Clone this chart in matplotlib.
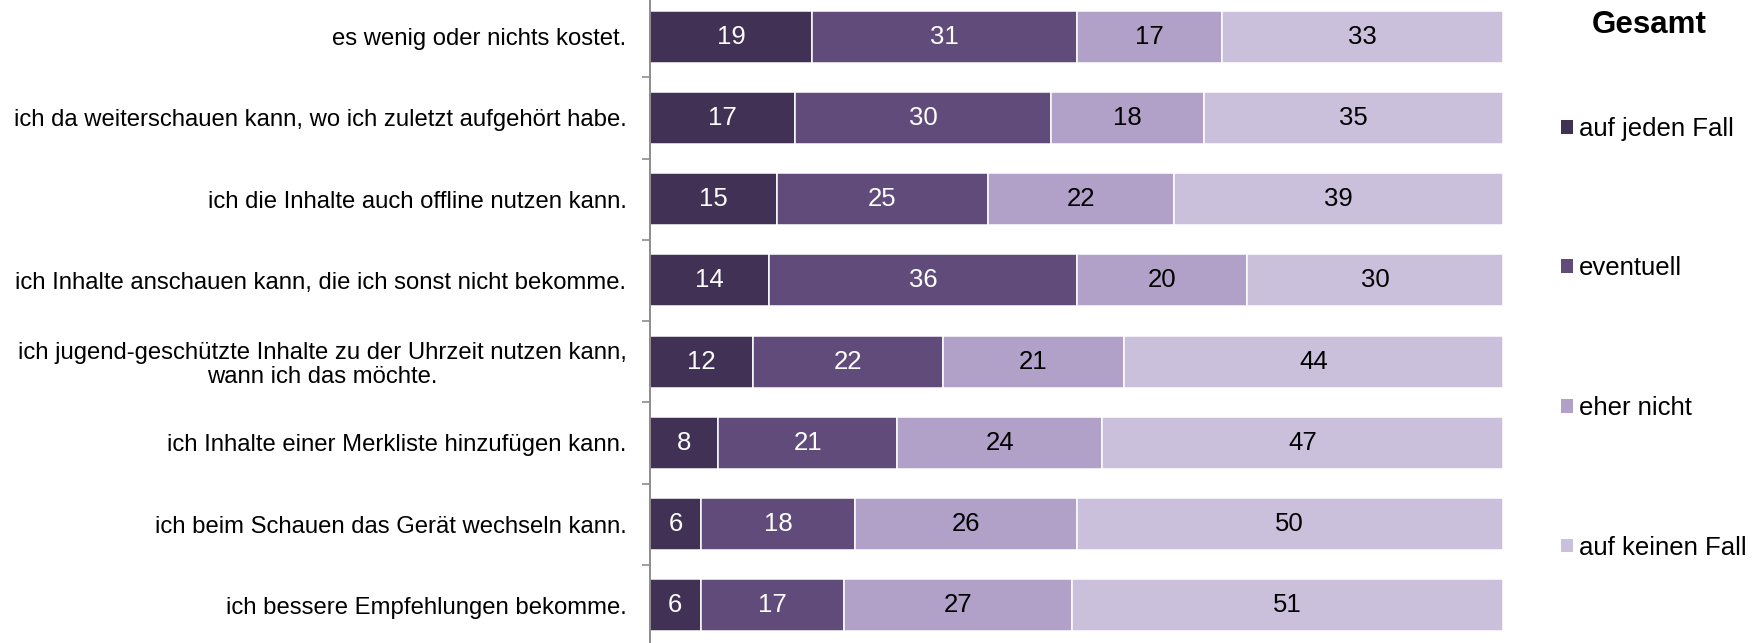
import numpy as np
import matplotlib.pyplot as plt
from matplotlib.patches import Patch

plt.rcParams['font.family'] = ['Liberation Sans', 'DejaVu Sans']

categories = [
    'es wenig oder nichts kostet.',
    'ich da weiterschauen kann, wo ich zuletzt aufgehört habe.',
    'ich die Inhalte auch offline nutzen kann.',
    'ich Inhalte anschauen kann, die ich sonst nicht bekomme.',
    'ich jugend-geschützte Inhalte zu der Uhrzeit nutzen kann,\nwann ich das möchte.',
    'ich Inhalte einer Merkliste hinzufügen kann.',
    'ich beim Schauen das Gerät wechseln kann.',
    'ich bessere Empfehlungen bekomme.',
]
series_names = ['auf jeden Fall', 'eventuell', 'eher nicht', 'auf keinen Fall']
auf_jeden_fall = [19, 17, 15, 14, 12, 8, 6, 6]
eventuell = [31, 30, 25, 36, 22, 21, 18, 17]
eher_nicht = [17, 18, 22, 20, 21, 24, 26, 27]
auf_keinen_fall = [33, 35, 39, 30, 44, 47, 50, 51]

colors = ['#413155', '#604b7a', '#b1a1c8', '#cbc0db']
text_colors = ['white', 'white', 'black', 'black']

values = np.array([auf_jeden_fall, eventuell, eher_nicht, auf_keinen_fall], dtype=float)
# rows are rounded, so scale each row to 100 % for the bar widths
shares = values / values.sum(axis=0) * 100

fig = plt.figure(figsize=(17.54, 6.43), dpi=100)
ax = fig.add_axes([650 / 1754, -3 / 643, 853 / 1754, 650 / 643])

y = np.arange(len(categories))
left = np.zeros(len(categories))
for i, name in enumerate(series_names):
    bars = ax.barh(y, shares[i], left=left, height=0.64, color=colors[i],
                   edgecolor='white', linewidth=1.1, label=name)
    for j, b in enumerate(bars):
        ax.text(left[j] + shares[i][j] / 2, y[j], f'{int(values[i][j])}',
                ha='center', va='center', fontsize=18.5, color=text_colors[i])
    left += shares[i]

ax.set_xlim(0, 100)
ax.set_ylim(len(categories) - 0.5, -0.5)
ax.set_xticks([])
ax.set_yticks(y)
ax.set_yticklabels(categories, fontsize=17.2, multialignment='center', linespacing=1.1)
ax.tick_params(axis='y', which='major', length=0, pad=17)
ax.set_yticks(np.arange(-0.5, len(categories)), minor=True)
ax.tick_params(axis='y', which='minor', length=6, width=1.2, color='#8c8c8c')
for s in ['top', 'right', 'bottom']:
    ax.spines[s].set_visible(False)
ax.spines['left'].set_color('#8c8c8c')
ax.spines['left'].set_linewidth(1.4)

handles = [Patch(facecolor=c, edgecolor='none') for c in colors]
fig.legend(handles, series_names, loc='center left', bbox_to_anchor=(1561 / 1754, 0.474),
           frameon=False, fontsize=18.5, handlelength=0.45, handleheight=0.45,
           handletextpad=0.25, labelspacing=4.5, borderpad=0, borderaxespad=0)
fig.text(1649 / 1754, 1 - 25 / 643, 'Gesamt', ha='center', va='center',
         fontsize=22.5, fontweight='bold')

fig.savefig('out.png', dpi=100)
